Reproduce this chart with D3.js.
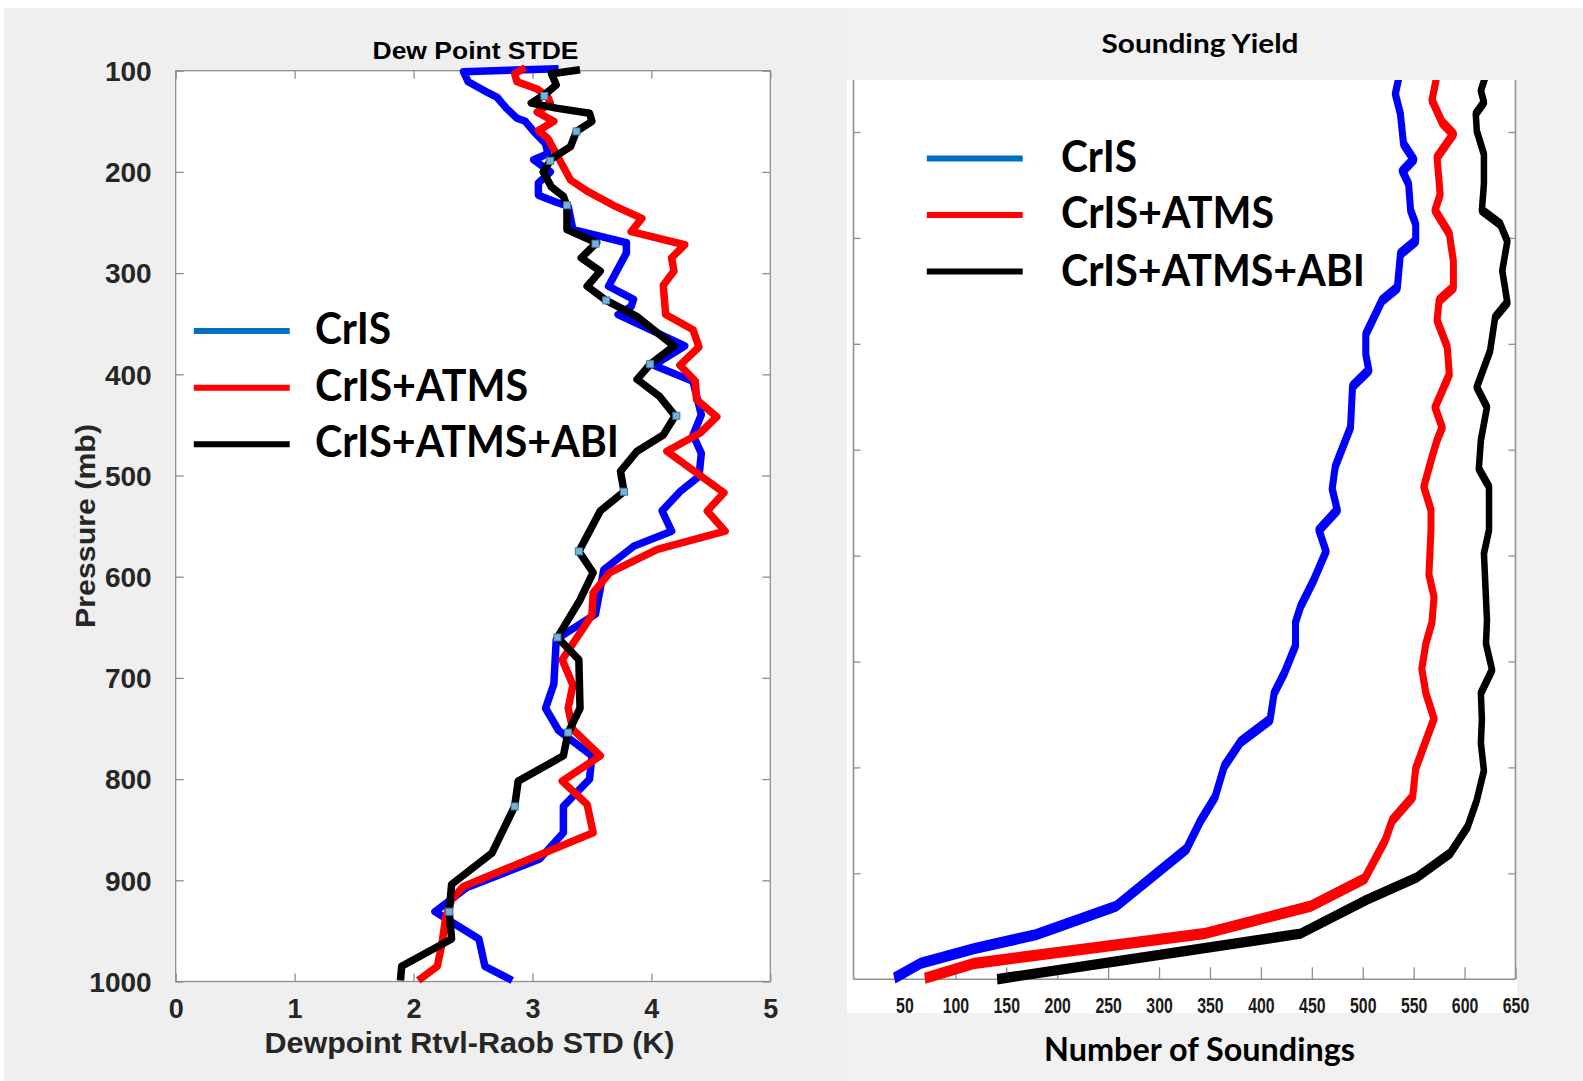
<!DOCTYPE html>
<html><head><meta charset="utf-8">
<script src="https://cdn.jsdelivr.net/npm/d3@7"></script>
<style>body{margin:0;background:#fff}svg{display:block}</style>
</head><body>
<script>
// ---------------- DATA ----------------
const seriesNames = ["CrIS", "CrIS+ATMS", "CrIS+ATMS+ABI"];
const lineColors = ["#0000ff", "#ff0000", "#000000"];
const legendColors = ["#0070c0", "#ff0000", "#000000"];

// Left panel: Dew point STDE (K) vs pressure (mb)
const stdeTicksX = [0, 1, 2, 3, 4, 5];
const pressureTicks = [100, 200, 300, 400, 500, 600, 700, 800, 900, 1000];

const stdeCrisP = [98,101,111,122,126,137,147,150,160,172,182,188,200,211,223,230,234,257,270,280,313,326,333,341,351,372,391,407,440,460,478,501,516,535,555,570,593,637,662,706,730,752,777,800,827,853,879,907,931,942,958,985,999];
const stdeCrisV = [3.22,2.42,2.46,2.63,2.70,2.78,2.87,2.94,3.01,3.11,3.13,3.01,3.15,3.05,3.05,3.20,3.30,3.34,3.79,3.79,3.64,3.85,3.83,3.72,3.90,4.28,4.02,4.35,4.42,4.35,4.42,4.40,4.24,4.09,4.17,3.85,3.60,3.53,3.20,3.18,3.11,3.22,3.50,3.48,3.26,3.26,3.06,2.45,2.18,2.33,2.55,2.60,2.83];

const stdeAtmsP = [97,103,111,118,126,132,141,150,159,167,182,208,219,233,246,259,272,285,298,312,341,356,373,391,407,425,442,458,476,517,535,555,573,596,616,638,682,707,730,751,777,802,825,853,906,919,937,962,985,999];
const stdeAtmsV = [2.94,2.85,2.87,3.04,3.13,3.15,3.04,3.18,3.05,3.13,3.20,3.32,3.46,3.68,3.92,3.83,4.28,4.17,4.19,4.10,4.12,4.35,4.40,4.24,4.37,4.38,4.55,4.41,4.13,4.61,4.47,4.62,4.05,3.65,3.51,3.50,3.25,3.34,3.30,3.34,3.57,3.25,3.46,3.51,2.42,2.32,2.27,2.24,2.20,2.04];

const stdeAbiP = [99,103,114,123,132,137,142,150,160,175,187,200,215,224,234,257,270,285,298,313,327,343,372,390,405,422,441,460,476,496,516,535,575,596,623,660,682,730,754,777,802,827,873,904,931,958,985,999];
const stdeAbiV = [3.40,3.16,3.20,3.11,2.99,3.20,3.48,3.50,3.37,3.32,3.16,3.09,3.16,3.26,3.29,3.29,3.54,3.41,3.57,3.46,3.62,3.88,4.19,3.99,3.88,4.07,4.20,4.10,3.88,3.74,3.77,3.57,3.39,3.51,3.40,3.21,3.39,3.40,3.30,3.26,2.88,2.85,2.66,2.32,2.30,2.32,1.90,1.89];

const markerP = [125,160,189,233,271,327,390,441,516,575,660,754,827,931];
const markerV = [3.10,3.37,3.15,3.29,3.53,3.62,3.99,4.21,3.77,3.39,3.21,3.30,2.85,2.30];

// Right panel: Sounding yield (number of soundings) vs pressure (mb)
const countTicksX = [50,100,150,200,250,300,350,400,450,500,550,600,650];
const yieldTicksP = [100,200,300,400,500,600,700,800,900];

const yieldCrisP = [146,164,183,211,226,237,249,274,287,303,315,347,359,391,410,425,440,479,506,516,537,557,576,596,623,648,663,685,711,730,755,776,799,828,850,877,902,931,958,971,985,999];
const yieldCrisV = [536,532,537,540,550,539,545,547,552,552,537,534,519,503,503,506,490,488,477,473,470,475,457,464,452,439,434,434,423,413,409,380,364,355,341,327,295,258,179,119,66,40];

const yieldAtmsP = [146,170,191,202,224,259,274,296,322,347,359,378,403,429,460,479,491,507,535,557,576,618,639,663,683,707,730,754,801,828,850,869,905,931,957,985,999];
const yieldAtmsV = [573,568,578,589,573,576,571,585,589,589,575,573,583,585,571,578,573,568,560,567,567,565,570,568,562,558,562,570,552,549,529,522,502,449,344,119,70];

const yieldAbiP = [146,161,172,183,199,221,249,274,287,303,331,361,375,407,441,460,491,518,535,576,598,661,683,708,730,755,777,803,831,856,881,904,925,957,1000];
const yieldAbiV = [621,616,619,611,612,619,619,617,635,642,637,642,630,625,612,622,616,614,624,624,619,622,621,627,616,617,616,619,612,603,586,553,504,439,141];

// ---------------- LAYOUT ----------------
const W = 1583, H = 1081;
const svg = d3.select("body").append("svg").attr("width", W).attr("height", H);
const zip = (P, V) => P.map((p, i) => [p, V[i]]);

// backgrounds
svg.append("rect").attr("x", 0).attr("y", 0).attr("width", W).attr("height", H).attr("fill", "#ffffff");
svg.append("rect").attr("x", 4).attr("y", 8).attr("width", 843).attr("height", H - 8).attr("fill", "#efefef");
svg.append("rect").attr("x", 847).attr("y", 8).attr("width", W - 847).attr("height", H - 8).attr("fill", "#f1f1f1");
svg.append("rect").attr("x", 847).attr("y", 80).attr("width", 670).attr("height", 933).attr("fill", "#ffffff");

const axisColor = "#8f8f8f";
const tickFill = "#262626";

// ======== LEFT PANEL ========
const xL = d3.scaleLinear().domain([0, 5]).range([175.7, 770.3]);
const yL = d3.scaleLinear().domain([100, 1000]).range([70.7, 981.5]);

svg.append("rect").attr("x", xL(0)).attr("y", yL(100))
  .attr("width", xL(5) - xL(0)).attr("height", yL(1000) - yL(100))
  .attr("fill", "#fff").attr("stroke", axisColor).attr("stroke-width", 1.3);

function styleAx(g) {
  g.select(".domain").remove();
  g.selectAll(".tick line").attr("stroke", axisColor).attr("stroke-width", 1.3);
}

const gL = svg.append("g");
const axB = gL.append("g").attr("transform", `translate(0,${yL(1000)})`)
  .call(d3.axisBottom(xL).tickValues(stdeTicksX).tickSizeInner(-8).tickSizeOuter(0).tickFormat(d3.format("d")));
styleAx(axB);
axB.selectAll("text").attr("y", 36).attr("dy", 0)
  .attr("font-family", "Liberation Sans, Arial, sans-serif").attr("font-weight", "bold")
  .attr("font-size", 27).attr("fill", tickFill);

const axT = gL.append("g").attr("transform", `translate(0,${yL(100)})`)
  .call(d3.axisTop(xL).tickValues(stdeTicksX).tickSizeInner(-8).tickSizeOuter(0).tickFormat(""));
styleAx(axT);

const axLft = gL.append("g").attr("transform", `translate(${xL(0)},0)`)
  .call(d3.axisLeft(yL).tickValues(pressureTicks).tickSizeInner(-8).tickSizeOuter(0).tickFormat(d3.format("d")));
styleAx(axLft);
axLft.selectAll("text").attr("x", -24).attr("dy", "0.36em")
  .attr("font-family", "Liberation Sans, Arial, sans-serif").attr("font-weight", "bold")
  .attr("font-size", 27).attr("fill", tickFill)
  .attr("textLength", d => String(d).length * 15.6).attr("lengthAdjust", "spacingAndGlyphs");

const axRgt = gL.append("g").attr("transform", `translate(${xL(5)},0)`)
  .call(d3.axisRight(yL).tickValues(pressureTicks).tickSizeInner(-8).tickSizeOuter(0).tickFormat(""));
styleAx(axRgt);

const lineL = d3.line().x(d => xL(d[1])).y(d => yL(d[0])).curve(d3.curveLinear);
[[stdeCrisP, stdeCrisV], [stdeAtmsP, stdeAtmsV], [stdeAbiP, stdeAbiV]].forEach((s, i) => {
  gL.append("path").datum(zip(s[0], s[1])).attr("d", lineL)
    .attr("fill", "none").attr("stroke", lineColors[i]).attr("stroke-width", 7.5)
    .attr("stroke-linejoin", "round").attr("stroke-linecap", "butt");
});
gL.selectAll("rect.mk").data(zip(markerP, markerV)).enter().append("rect").attr("class", "mk")
  .attr("x", d => xL(d[1]) - 3.5).attr("y", d => yL(d[0]) - 3.5).attr("width", 7).attr("height", 7)
  .attr("fill", "#7ab2d6").attr("stroke", "#3d7fae").attr("stroke-width", 1);

// titles/labels left
svg.append("text").attr("x", 475.5).attr("y", 58.5).attr("text-anchor", "middle")
  .attr("font-family", "Liberation Sans, Arial, sans-serif").attr("font-weight", "bold").attr("font-size", 23)
  .attr("fill", "#000").attr("textLength", 206).attr("lengthAdjust", "spacingAndGlyphs").text("Dew Point STDE");
svg.append("text").attr("x", 469.5).attr("y", 1053).attr("text-anchor", "middle")
  .attr("font-family", "Liberation Sans, Arial, sans-serif").attr("font-weight", "bold").attr("font-size", 29)
  .attr("fill", tickFill).attr("textLength", 410).attr("lengthAdjust", "spacingAndGlyphs").text("Dewpoint Rtvl-Raob STD (K)");
svg.append("text").attr("transform", "translate(95,526) rotate(-90)").attr("text-anchor", "middle")
  .attr("font-family", "Liberation Sans, Arial, sans-serif").attr("font-weight", "bold").attr("font-size", 28)
  .attr("fill", tickFill).attr("textLength", 204).attr("lengthAdjust", "spacingAndGlyphs").text("Pressure (mb)");

// legend
const legW = [76, 213, 304];
function legend(x0, x1, tx, ys, bases) {
  seriesNames.forEach((n, i) => {
    svg.append("line").attr("x1", x0).attr("x2", x1).attr("y1", ys[i]).attr("y2", ys[i])
      .attr("stroke", legendColors[i]).attr("stroke-width", 6);
    svg.append("text").attr("x", tx).attr("y", bases[i])
      .attr("font-family", "Lato, 'Open Sans', sans-serif").attr("font-weight", "bold").attr("font-size", 43)
      .attr("fill", "#000").attr("textLength", legW[i]).attr("lengthAdjust", "spacingAndGlyphs").text(n);
  });
}
legend(193.8, 289.7, 315, [331.1, 387.7, 444.2], [344.3, 400.8, 457.3]);

// ======== RIGHT PANEL ========
const xR = d3.scaleLinear().domain([0, 650]).range([853.5, 1515.5]);
const yR = d3.scaleLinear().domain([100, 1000]).range([26.1, 979.2]);

svg.append("defs").append("clipPath").attr("id", "clipR")
  .append("rect").attr("x", 847).attr("y", 80).attr("width", 700).attr("height", 933);

const gR = svg.append("g").attr("clip-path", "url(#clipR)");
gR.append("line").attr("x1", xR(0)).attr("x2", xR(0)).attr("y1", 0).attr("y2", yR(1000)).attr("stroke", axisColor).attr("stroke-width", 1.6);
gR.append("line").attr("x1", xR(650)).attr("x2", xR(650)).attr("y1", 0).attr("y2", yR(1000)).attr("stroke", axisColor).attr("stroke-width", 1.6);
gR.append("line").attr("x1", xR(0)).attr("x2", xR(650)).attr("y1", yR(1000)).attr("y2", yR(1000)).attr("stroke", axisColor).attr("stroke-width", 1.6);

const rB = gR.append("g").attr("transform", `translate(0,${yR(1000)})`)
  .call(d3.axisBottom(xR).tickValues(countTicksX).tickSizeInner(-12).tickSizeOuter(0).tickFormat(""));
styleAx(rB);
const rL = gR.append("g").attr("transform", `translate(${xR(0)},0)`)
  .call(d3.axisLeft(yR).tickValues(yieldTicksP).tickSizeInner(-7).tickSizeOuter(0).tickFormat(""));
styleAx(rL);
const rRt = gR.append("g").attr("transform", `translate(${xR(650)},0)`)
  .call(d3.axisRight(yR).tickValues(yieldTicksP).tickSizeInner(-7).tickSizeOuter(0).tickFormat(""));
styleAx(rRt);

// the source image of this panel is vertically stretched: emulate with a scaled pen
const k = 1.6;
const gRs = gR.append("g").attr("transform", `scale(1,${k})`);
const lineR = d3.line().x(d => xR(d[1])).y(d => yR(d[0]) / k);
[[yieldCrisP, yieldCrisV], [yieldAtmsP, yieldAtmsV], [yieldAbiP, yieldAbiV]].forEach((s, i) => {
  gRs.append("path").datum(zip(s[0], s[1])).attr("d", lineR)
    .attr("fill", "none").attr("stroke", lineColors[i]).attr("stroke-width", i === 2 ? 6.5 : 7)
    .attr("stroke-linejoin", "round").attr("stroke-linecap", "butt");
});

// right tick labels (outside clip)
const rLab = svg.append("g").attr("transform", `translate(0,${yR(1000)})`)
  .call(d3.axisBottom(xR).tickValues(countTicksX).tickSize(0).tickFormat(d3.format("d")));
rLab.select(".domain").remove();
rLab.selectAll("text").attr("y", 34).attr("dy", 0).attr("transform", "scale(0.72,1)")
  .attr("font-family", "Liberation Sans, Arial, sans-serif").attr("font-weight", "bold")
  .attr("font-size", 22).attr("fill", "#1a1a1a");

svg.append("text").attr("x", 1200).attr("y", 52.5).attr("text-anchor", "middle")
  .attr("font-family", "Lato, 'Open Sans', sans-serif").attr("font-weight", "bold").attr("font-size", 26)
  .attr("fill", "#000").attr("textLength", 197).attr("lengthAdjust", "spacingAndGlyphs").text("Sounding Yield");
svg.append("text").attr("x", 1199.5).attr("y", 1061).attr("text-anchor", "middle")
  .attr("font-family", "Lato, 'Open Sans', sans-serif").attr("font-weight", "bold").attr("font-size", 32)
  .attr("fill", "#000").attr("textLength", 311).attr("lengthAdjust", "spacingAndGlyphs").text("Number of Soundings");

legend(926.8, 1022.7, 1061, [158.5, 215, 271.6], [171.6, 228.2, 285.7]);
</script>
</body></html>
